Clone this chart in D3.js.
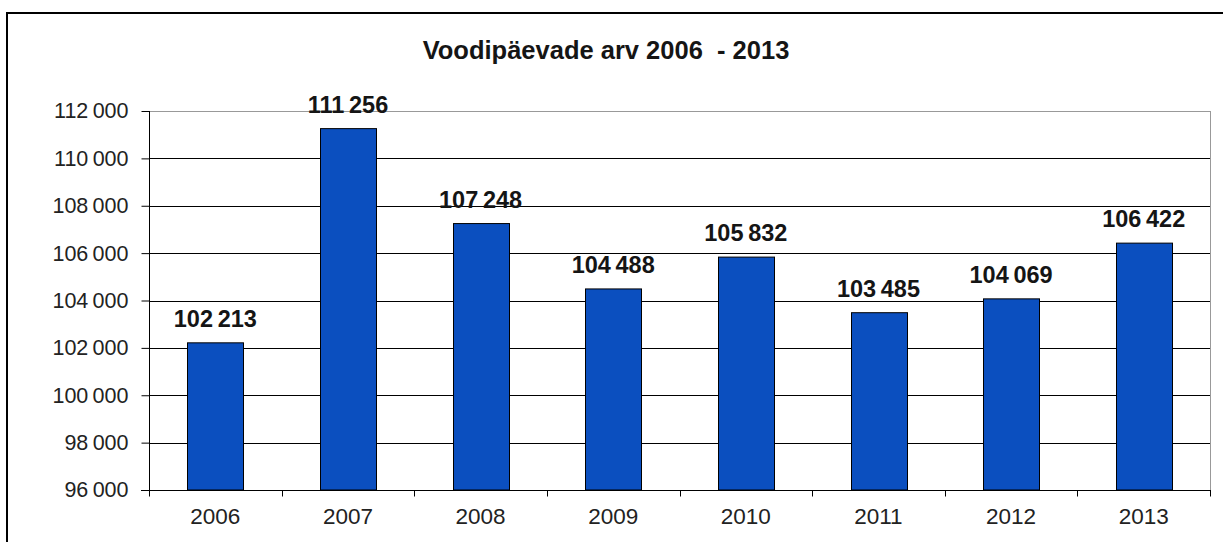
<!DOCTYPE html>
<html><head><meta charset="utf-8">
<script src="https://cdn.jsdelivr.net/npm/d3@7"></script>
<style>body{margin:0;background:#fff;}svg{display:block;}</style>
</head><body>
<svg id="c" width="1223" height="542"></svg>
<script>
const years = ["2006","2007","2008","2009","2010","2011","2012","2013"];
const values = [102213,111256,107248,104488,105832,103485,104069,106422];
const yTicks = [96000,98000,100000,102000,104000,106000,108000,110000,112000];
const title = "Voodipäevade arv 2006  - 2013";

(function(){
const svg = d3.select("#c");
const FONT = "Liberation Sans, Arial, sans-serif";
const fmt = v => { const s = String(v); return s.slice(0, s.length-3) + "\u2009" + s.slice(-3); };

svg.append("rect").attr("x",7).attr("y",13).attr("width",1400).attr("height",700)
  .attr("fill","none").attr("stroke","#000").attr("stroke-width",2);

const pL=149, pR=1210, pT=111, pB=490;
const x = d3.scaleBand().domain(years).range([pL,pR]).paddingInner(0.58).paddingOuter(0.29);
const y = d3.scaleLinear().domain([96000,112000]).range([pB,pT]);

svg.append("text").attr("x",606).attr("y",59).attr("text-anchor","middle")
  .attr("font-family",FONT).attr("font-weight","bold")
  .attr("font-size",25.5).attr("fill","#151515").style("white-space","pre").text(title);

// gridlines
svg.append("g").selectAll("line").data(yTicks.filter(t=>t>96000)).join("line")
  .attr("x1",pL).attr("x2",pR).attr("y1",d=>Math.round(y(d))+0.5).attr("y2",d=>Math.round(y(d))+0.5)
  .attr("stroke",d=>d===112000?"#999":"#000").attr("stroke-width",1);
svg.append("line").attr("x1",pR+0.5).attr("x2",pR+0.5).attr("y1",pT).attr("y2",pB)
  .attr("stroke","#999");

// bars
svg.append("g").selectAll("rect").data(values).join("rect")
  .attr("x",(d,i)=>Math.round(x(years[i]))+0.5).attr("width",Math.round(x.bandwidth()))
  .attr("y",d=>y(d)).attr("height",d=>pB-y(d))
  .attr("fill","#0b4fbf").attr("stroke","#000").attr("stroke-width",1);

// value labels
svg.append("g").selectAll("text").data(values).join("text")
  .attr("x",(d,i)=>x(years[i])+x.bandwidth()/2).attr("y",d=>y(d)-16)
  .attr("text-anchor","middle").attr("font-family",FONT)
  .attr("font-weight","bold").attr("font-size",23.5).attr("fill","#151515").text(fmt);

// y axis
const yAxis = d3.axisLeft(y).tickValues(yTicks).tickSize(8).tickPadding(13).tickFormat(fmt);
const gy = svg.append("g").attr("transform",`translate(${pL+0.5},0)`).call(yAxis);
gy.select(".domain").attr("stroke","#000").attr("d",`M0,${pT}V${pB}`);
gy.selectAll(".tick line").attr("stroke","#000");
gy.selectAll("text").attr("font-family",FONT).attr("font-size",21.5).attr("fill","#222");

// x axis
const gx = svg.append("g").attr("transform",`translate(0,${pB+0.5})`);
gx.append("line").attr("x1",pL-8).attr("x2",pR+1).attr("stroke","#000");
const bounds = d3.range(years.length+1).map(i=>pL + i*(pR-pL)/years.length);
gx.selectAll(".tk").data(bounds).join("line").attr("class","tk")
  .attr("x1",d=>Math.round(d)+0.5).attr("x2",d=>Math.round(d)+0.5).attr("y1",0).attr("y2",6).attr("stroke","#000");
gx.selectAll("text").data(years).join("text")
  .attr("x",d=>x(d)+x.bandwidth()/2).attr("y",33).attr("text-anchor","middle")
  .attr("font-family",FONT).attr("font-size",22.5).attr("fill","#222").text(d=>d);
})();
</script>
</body></html>
